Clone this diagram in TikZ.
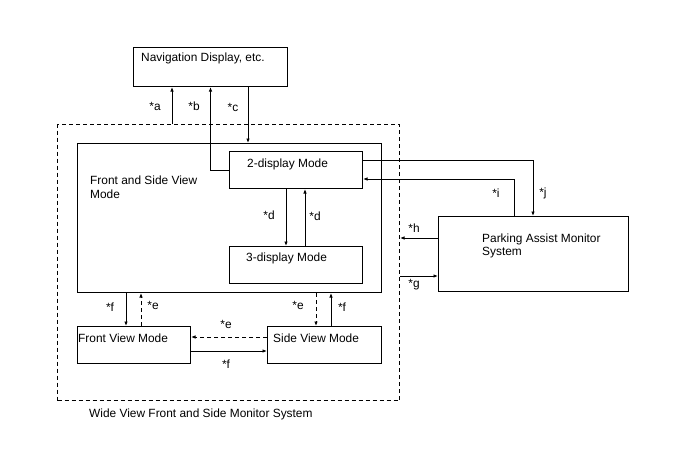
\documentclass[tikz,border=0pt]{standalone}
\usepackage{fontspec}
\setmainfont{Liberation Sans}
\usetikzlibrary{arrows.meta}
\begin{document}
\begin{tikzpicture}[x=1pt,y=-1pt,
  box/.style={draw, line width=1pt, minimum width=#1, inner sep=0pt, anchor=north west},
  txt/.style={font=\fontsize{11.9}{13.5}\selectfont, inner sep=0pt, anchor=west, align=left},
  lab/.style={font=\fontsize{11.9}{13.5}\selectfont, inner sep=0pt},
  arr/.style={line width=1pt, -{Latex[length=4.5pt,width=3.5pt]}},
  darr/.style={arr, dash pattern=on 4pt off 3pt}]
\useasboundingbox (0,0) rectangle (688,463);
% boxes
\node[box=154pt, minimum height=39pt] (nav) at (133,47) {};
\node[box=342pt, minimum height=276pt, dash pattern=on 4pt off 3pt] (wv) at (57,124) {};
\node[box=304pt, minimum height=149pt] (fsv) at (77,143) {};
\node[box=133pt, minimum height=37pt] (two) at (229,151) {};
\node[box=133pt, minimum height=37pt] (three) at (229,246) {};
\node[box=113pt, minimum height=37pt] (fvm) at (77,326) {};
\node[box=114pt, minimum height=37pt] (svm) at (267,326) {};
\node[box=190pt, minimum height=75pt] (pams) at (438,216) {};
% texts
\node[txt] (navt) at (141,58) {Navigation Display, etc.};
\node[txt] (twot) at (247,164) {2-display Mode};
\node[txt] (threet) at (246,258) {3-display Mode};
\node[txt] (fsvt) at (90,187) {Front and Side View\\Mode};
\node[txt] (fvmt) at (78,338) {Front View Mode};
\node[txt] (svmt) at (273,338) {Side View Mode};
\node[txt] (pamst) at (482,246) {Parking Assist Monitor\\System};
\node[txt] (wvt) at (89,414) {Wide View Front and Side Monitor System};
% coordinates
\coordinate (xa) at (172,0);
\coordinate (xc) at (248,0);
\coordinate (xd1) at (286,0);
\coordinate (xd2) at (305,0);
\coordinate (xf1) at (126,0);
\coordinate (xe1) at (141,0);
\coordinate (xe2) at (316,0);
\coordinate (xf2) at (331,0);
\coordinate (xi) at (514,0);
\coordinate (xj) at (533,0);
\coordinate (yj) at (0,160);
\coordinate (yi) at (0,179);
\coordinate (yh) at (0,238);
\coordinate (yg) at (0,276);
\coordinate (ye) at (0,337);
\coordinate (yf) at (0,351);
% connectors
\draw[arr] (wv.north -| xa) -- (nav.south -| xa);
\draw[arr] (two.west) -| (nav.south);
\draw[arr] (nav.south -| xc) -- (fsv.north -| xc);
\draw[arr] (two.south -| xd1) -- (three.north -| xd1);
\draw[arr] (three.north -| xd2) -- (two.south -| xd2);
\draw[arr] (two.east |- yj) -| (pams.north -| xj);
\draw[arr] (pams.north -| xi) |- (two.east |- yi);
\draw[arr] (pams.west |- yh) -- (wv.east |- yh);
\draw[arr] (wv.east |- yg) -- (pams.west |- yg);
\draw[arr] (fsv.south -| xf1) -- (fvm.north -| xf1);
\draw[darr] (fvm.north -| xe1) -- (fsv.south -| xe1);
\draw[darr] (fsv.south -| xe2) -- (svm.north -| xe2);
\draw[arr] (svm.north -| xf2) -- (fsv.south -| xf2);
\draw[darr] (svm.west |- ye) -- (fvm.east |- ye);
\draw[arr] (fvm.east |- yf) -- (svm.west |- yf);
% labels
\node[lab] (la) at (155,106) {*a};
\node[lab] (lb) at (194,106) {*b};
\node[lab] (lc) at (233,107) {*c};
\node[lab] (ld1) at (269,215) {*d};
\node[lab] (ld2) at (315,216) {*d};
\node[lab] (li) at (496,193) {*i};
\node[lab] (lj) at (543,193) {*j};
\node[lab] (lh) at (414,228) {*h};
\node[lab] (lg) at (414,285) {*g};
\node[lab] (lf1) at (110,307) {*f};
\node[lab] (le1) at (153,305) {*e};
\node[lab] (le2) at (298,305) {*e};
\node[lab] (lf2) at (342,307) {*f};
\node[lab] (le3) at (226,324) {*e};
\node[lab] (lf3) at (226,364) {*f};
\end{tikzpicture}
\end{document}
